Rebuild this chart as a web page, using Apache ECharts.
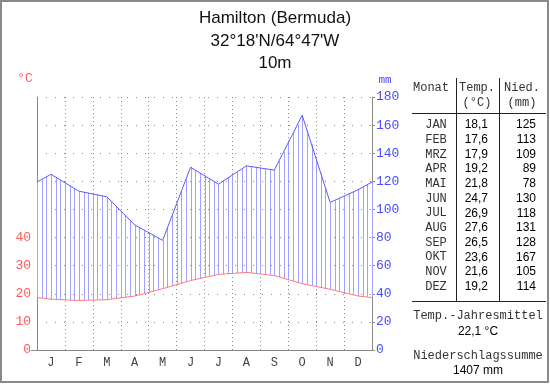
<!DOCTYPE html>
<html><head><meta charset="utf-8">
<script src="https://cdn.jsdelivr.net/npm/echarts@6/dist/echarts.min.js"></script>
<style>html,body{margin:0;padding:0;background:#fff}#c{width:550px;height:384px}</style>
</head><body><div id="c"></div>
<script>
const months = ['J','F','M','A','M','J','J','A','S','O','N','D'];
const tableMonths = ['JAN','FEB','MRZ','APR','MAI','JUN','JUL','AUG','SEP','OKT','NOV','DEZ'];
const temps = [18.1,17.6,17.9,19.2,21.8,24.7,26.9,27.6,26.5,23.6,21.6,19.2];
const precip = [125,113,109,89,78,130,118,131,128,167,105,114];
const titleLines = ['Hamilton (Bermuda)', "32°18'N/64°47'W", '10m'];
const tempTicks = [0,10,20,30,40];
const precipTicks = [0,20,40,60,80,100,120,140,160,180];

const MONO = '"Liberation Mono", "DejaVu Sans Mono", monospace';
const SANS = '"Liberation Sans", Arial, sans-serif';
const RED = '#ff5a5a', BLUE = '#4a4aff';
const HATCH_PER_MONTH = 6;

// series on mm scale (1 °C = 2 mm); edges wrap between Dec and Jan
const n = months.length;
const tEdge = (temps[0] + temps[n-1]) / 2;
const pEdge = (precip[0] + precip[n-1]) / 2;
const xs = [0].concat(temps.map((t,i)=>i+0.5), [n]);
const tVals = [tEdge].concat(temps, [tEdge]).map(t=>t*2);
const pVals = [pEdge].concat(precip, [pEdge]);
const tempMM = xs.map((x,i)=>[x, tVals[i]]);
const precMM = xs.map((x,i)=>[x, pVals[i]]);
const segs = xs.slice(0,-1).map((x,i)=>[x, tVals[i], pVals[i], xs[i+1], tVals[i+1], pVals[i+1]]);

const fmt = v => v.toFixed(1).replace('.', ',');
const meanT = temps.reduce((a,b)=>a+b,0)/n;
const sumP = precip.reduce((a,b)=>a+b,0);

const graphic = [];
graphic.push({type:'rect', shape:{x:1,y:1,width:547,height:381}, style:{fill:null, stroke:'#8a8a8a', lineWidth:2}, silent:true});
titleLines.forEach((t,i)=>graphic.push({type:'text', x:275, y:18.5+i*22.5, style:{text:t, font:'17px '+SANS, fill:'#111', textAlign:'center', textVerticalAlign:'middle'}}));
graphic.push({type:'text', x:25, y:79, style:{text:'°C', font:'13px '+MONO, fill:RED, textAlign:'center', textVerticalAlign:'middle'}});
graphic.push({type:'text', x:385, y:80, style:{text:'mm', font:'11px '+MONO, fill:BLUE, textAlign:'center', textVerticalAlign:'middle'}});
graphic.push({type:'line', shape:{x1:31, y1:350.5, x2:37, y2:350.5}, style:{stroke:'#888', lineWidth:1}, silent:true});
// table
const L = (x1,y1,x2,y2)=>graphic.push({type:'line', shape:{x1,y1,x2,y2}, style:{stroke:'#222', lineWidth:1}, silent:true});
L(456.5,78,456.5,302); L(499.5,78,499.5,302);
L(412,113.5,546,113.5); L(412,301.5,546,301.5);
const T = (t,x,y,font,fill,align)=>graphic.push({type:'text', x, y, style:{text:t, font, fill, textAlign:align||'center', textVerticalAlign:'middle'}});
T('Monat',431,88,'12px '+MONO,'#333');
T('Temp.',477,88,'12px '+MONO,'#333');
T('(°C)',477,103,'12px '+MONO,'#333');
T('Nied.',522,88,'12px '+MONO,'#333');
T('(mm)',522,103,'12px '+MONO,'#333');
tableMonths.forEach((m,i)=>{
  const y = 125 + i*14.7;
  T(m,436,y,'12px '+MONO,'#333');
  T(fmt(temps[i]),488,y,'12px '+SANS,'#000','right');
  T(String(precip[i]),536,y,'12px '+SANS,'#000','right');
});
T('Temp.-Jahresmittel',478,316,'12px '+MONO,'#333');
T(fmt(meanT)+' °C',478,332,'12px '+SANS,'#000');
T('Niederschlagssumme',478,356,'12px '+MONO,'#333');
T(sumP+' mm',478,371,'12px '+SANS,'#000');

const chart = echarts.init(document.getElementById('c'), null, {renderer:'canvas'});
chart.setOption({
  animation:false,
  backgroundColor:'#fff',
  grid:{left:37, right:178, top:97, bottom:34},
  xAxis:[
    {type:'category', data:months, boundaryGap:true, position:'bottom',
     axisLine:{lineStyle:{color:'#888'}}, axisTick:{alignWithLabel:false, length:5, lineStyle:{color:'#888'}},
     axisLabel:{color:'#444', fontFamily:MONO, fontSize:12, margin:7},
     splitLine:{show:true, lineStyle:{color:'#888', type:[1,3], width:1}}},
    {type:'value', min:0, max:n, show:false}
  ],
  yAxis:[
    {type:'value', min:0, max:90, interval:10, position:'left',
     axisLine:{show:true, lineStyle:{color:'#888'}}, axisTick:{show:false},
     axisLabel:{color:RED, fontFamily:MONO, fontSize:13, margin:6, formatter:v=> tempTicks.indexOf(v)>=0 ? String(v) : ''},
     splitLine:{show:true, lineStyle:{color:'#888', type:[1,8], width:1}}},
    {type:'value', min:0, max:180, interval:20, position:'right',
     axisLine:{show:true, lineStyle:{color:'#888'}}, axisTick:{show:true, length:3, lineStyle:{color:'#888'}},
     axisLabel:{color:BLUE, fontFamily:MONO, fontSize:13, margin:4, formatter:v=> precipTicks.indexOf(v)>=0 ? String(v) : ''},
     splitLine:{show:false}}
  ],
  series:[
    {type:'custom', xAxisIndex:1, yAxisIndex:1, data:segs, z:2, silent:true,
     renderItem:function(params, api){
       const left = api.coord([0,0])[0];
       const right = api.coord([n,0])[0];
       const step = (right-left)/(n*HATCH_PER_MONTH);
       const a = api.coord([api.value(0), api.value(2)]);
       const b = api.coord([api.value(3), api.value(5)]);
       const c = api.coord([api.value(3), api.value(4)]);
       const d = api.coord([api.value(0), api.value(1)]);
       const children = [];
       const k0 = Math.ceil((a[0]-left)/step - 1e-6);
       for (let k=k0; left + k*step < b[0] - 1e-6 || (params.dataIndex===segs.length-1 && left + k*step <= b[0]+1e-6); k++){
         const x = left + k*step;
         const f = (x - a[0])/(b[0]-a[0]);
         const yTop = a[1] + f*(b[1]-a[1]);
         const yBot = d[1] + f*(c[1]-d[1]);
         const px = Math.round(x) + 0.5;
         children.push({type:'line', shape:{x1:px, y1:yTop, x2:px, y2:yBot}, style:{stroke:'#a0a0ff', lineWidth:1}});
       }
       return {type:'group', children};
     }},
    {type:'line', xAxisIndex:1, yAxisIndex:1, data:tempMM, symbol:'none',
     lineStyle:{color:'#ff7a7a', width:1}, z:4},
    {type:'line', xAxisIndex:1, yAxisIndex:1, data:precMM, symbol:'none',
     lineStyle:{color:'#5a5aff', width:1}, z:4}
  ],
  graphic:graphic
});
</script></body></html>
